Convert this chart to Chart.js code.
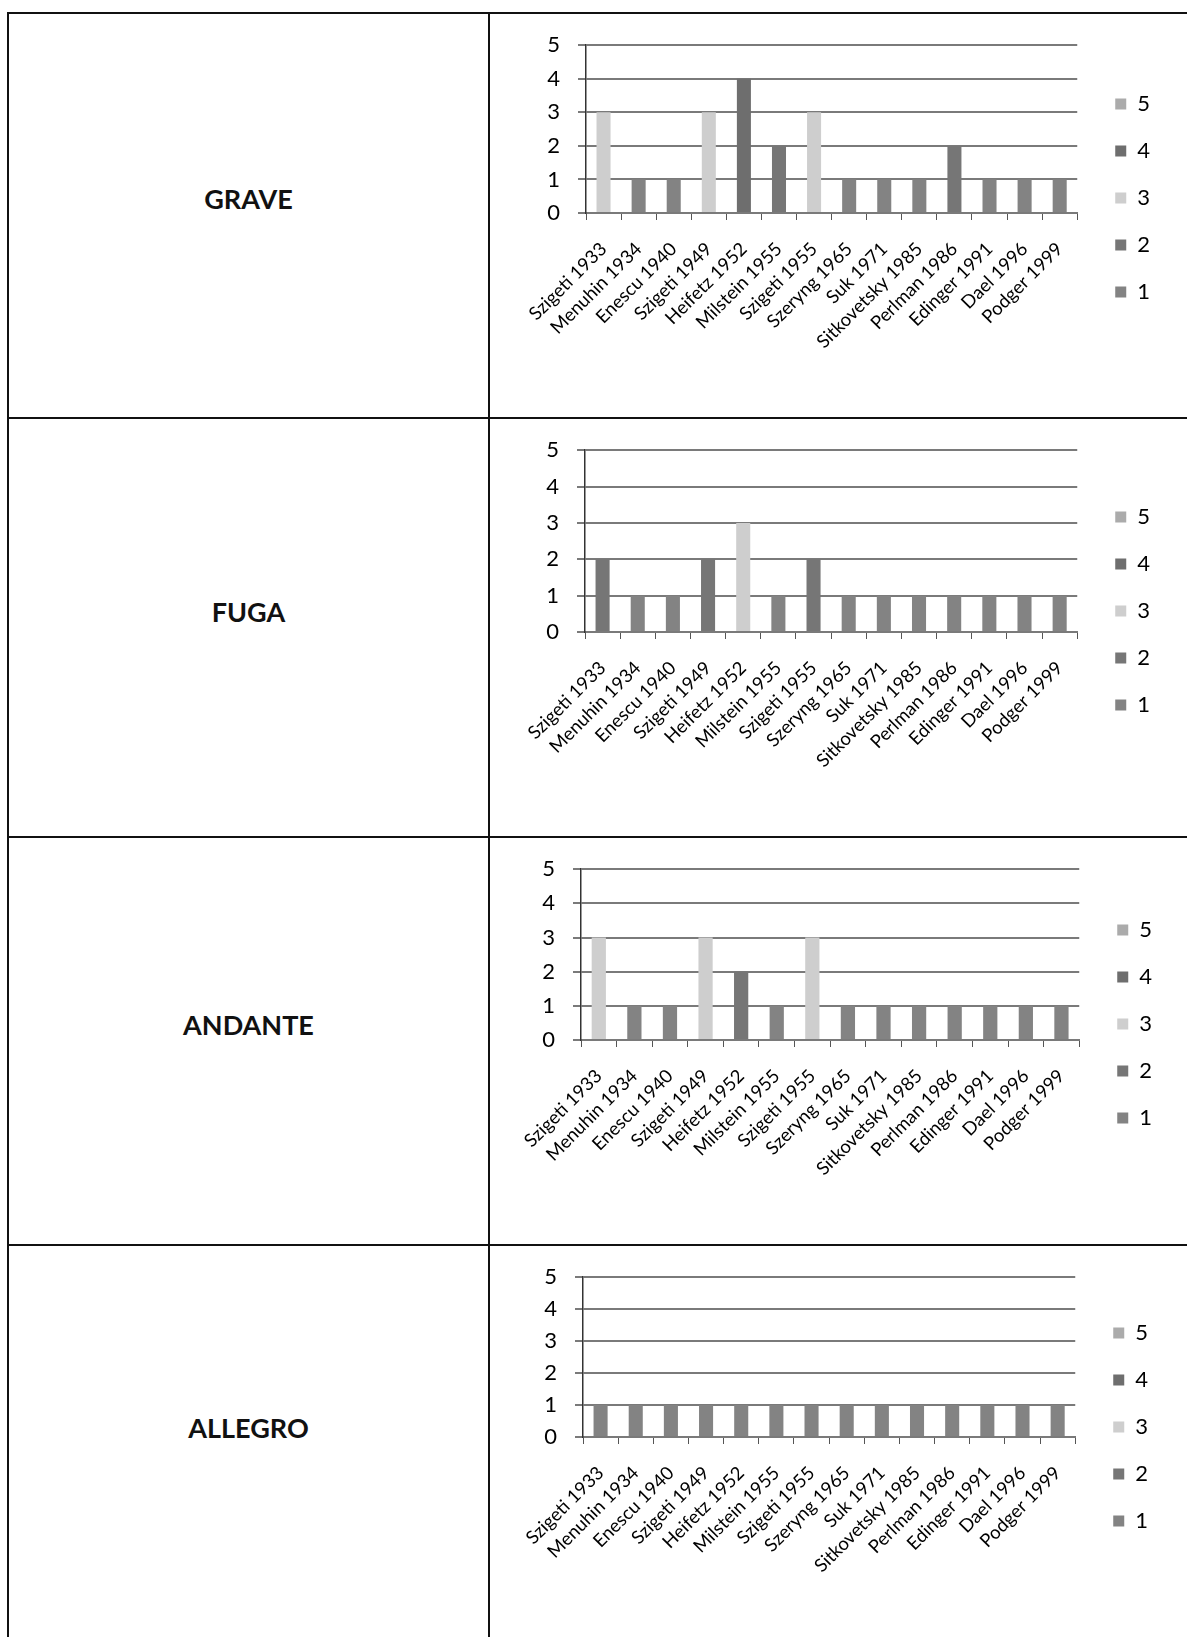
<!DOCTYPE html>
<html>
<head>
<meta charset="utf-8">
<script src="https://cdn.jsdelivr.net/npm/chart.js@4.4.1/dist/chart.umd.min.js"></script>
<style>
  html, body { margin: 0; padding: 0; background: #fff; }
  body { width: 1187px; height: 1637px; position: relative; overflow: hidden; font-family: Lato, "Open Sans", sans-serif; }
  .rule { position: absolute; background: #111; }
  .name { position: absolute; left: 9px; width: 479px; text-align: center; font-weight: bold; font-size: 27px; line-height: 1; transform: translateY(-50%); color: #111; }
  .cell { position: absolute; left: 491px; width: 696px; }
</style>
</head>
<body>
<script>
// recordings on the x axis
const performers = ["Szigeti 1933", "Menuhin 1934", "Enescu 1940", "Szigeti 1949", "Heifetz 1952",
  "Milstein 1955", "Szigeti 1955", "Szeryng 1965", "Suk 1971", "Sitkovetsky 1985",
  "Perlman 1986", "Edinger 1991", "Dael 1996", "Podger 1999"];

const movements = ["GRAVE", "FUGA", "ANDANTE", "ALLEGRO"];

// score of each recording, one array per movement
const graveScores   = [3, 1, 1, 3, 4, 2, 3, 1, 1, 1, 2, 1, 1, 1];
const fugaScores    = [2, 1, 1, 2, 3, 1, 2, 1, 1, 1, 1, 1, 1, 1];
const andanteScores = [3, 1, 1, 3, 2, 1, 3, 1, 1, 1, 1, 1, 1, 1];
const allegroScores = [1, 1, 1, 1, 1, 1, 1, 1, 1, 1, 1, 1, 1, 1];

// legend series (score levels) and their grey fills
const scoreLevels = [1, 2, 3, 4, 5];
const levelColors = ["#838383", "#767676", "#cecece", "#6e6e6e", "#ababab"];

const yTicks = [0, 1, 2, 3, 4, 5];

const allScores = [graveScores, fugaScores, andanteScores, allegroScores];

// page geometry of the four table rows (pixels)
const rowLines = [12, 417, 836, 1244];
const rowLayout = [
  { top: 14,   height: 403, plotTop: 43,   plotBottom: 213,  center: 198,  plotLeft: 586, plotRight: 1079 },
  { top: 419,  height: 417, plotTop: 448,  plotBottom: 632,  center: 611,  plotLeft: 585, plotRight: 1079 },
  { top: 838,  height: 406, plotTop: 867,  plotBottom: 1040, center: 1024, plotLeft: 581, plotRight: 1081 },
  { top: 1246, height: 391, plotTop: 1276, plotBottom: 1437, center: 1427, plotLeft: 583, plotRight: 1077 }
];
const legendWidth = 68;
const legendShift = 13;

Chart.defaults.font.family = "Lato, 'Open Sans', sans-serif";
Chart.defaults.color = "#000";

// legend sits a little further from the plot than its padding allows
const legendNudge = {
  id: "legendNudge",
  afterLayout(chart) {
    chart.legend.left += legendShift;
    chart.legend.right += legendShift;
  }
};

function addRule(x, y, w, h) {
  const d = document.createElement("div");
  d.className = "rule";
  d.style.left = x + "px";
  d.style.top = y + "px";
  d.style.width = w + "px";
  d.style.height = h + "px";
  document.body.appendChild(d);
}

// table borders
rowLines.forEach(y => addRule(7, y, 1180, 2));
addRule(7, 12, 2, 1625);
addRule(488, 12, 2, 1625);

function buildChart(idx) {
  const L = rowLayout[idx];
  const scores = allScores[idx];

  const name = document.createElement("div");
  name.className = "name";
  name.style.top = L.center + "px";
  name.textContent = movements[idx];
  document.body.appendChild(name);

  const canvas = document.createElement("canvas");
  canvas.className = "cell";
  canvas.width = 696;
  canvas.height = L.height;
  canvas.style.top = L.top + "px";
  canvas.style.height = L.height + "px";
  document.body.appendChild(canvas);

  const padTop = L.plotTop - L.top;
  const padBottom = L.height - ((L.center - L.top) * 2 - padTop);
  const xAxisHeight = (L.height - padBottom) - (L.plotBottom - L.top);
  const yAxisWidth = L.plotLeft - 491;
  const padRight = 1187 - L.plotRight - legendWidth;

  const datasets = scoreLevels.map((lvl, i) => ({
    label: String(lvl),
    data: scores.map(v => (v === lvl ? v : null)),
    backgroundColor: levelColors[i],
    borderWidth: 0,
    barPercentage: 0.4,
    categoryPercentage: 1.0
  }));

  new Chart(canvas.getContext("2d"), {
    type: "bar",
    data: { labels: performers, datasets },
    plugins: [legendNudge],
    options: {
      responsive: false,
      animation: false,
      devicePixelRatio: 1,
      layout: { padding: { top: padTop, bottom: padBottom, left: 0, right: padRight } },
      plugins: {
        tooltip: { enabled: false },
        legend: {
          position: "right",
          reverse: true,
          labels: { boxWidth: 11, boxHeight: 11, padding: 25, color: "#000", font: { size: 22 } }
        }
      },
      scales: {
        x: {
          stacked: true,
          afterFit: s => { s.height = xAxisHeight; },
          grid: { offset: true, drawOnChartArea: false, drawTicks: true, tickLength: 7, color: "#555", lineWidth: 1 },
          border: { color: "#7a7a7a", width: 2 },
          ticks: { autoSkip: false, minRotation: 45, maxRotation: 45, padding: 18, color: "#000", font: { size: 18.5 } }
        },
        y: {
          stacked: true,
          min: 0,
          max: 5,
          afterFit: s => { s.width = yAxisWidth; },
          afterBuildTicks: s => { s.ticks = yTicks.map(v => ({ value: v })); },
          grid: { color: "#7a7a7a", lineWidth: 2, tickLength: 8 },
          border: { color: "#333", width: 1.5 },
          ticks: { padding: 18, color: "#000", font: { size: 22 } }
        }
      }
    }
  });
}

movements.forEach((m, i) => buildChart(i));
</script>
</body>
</html>
